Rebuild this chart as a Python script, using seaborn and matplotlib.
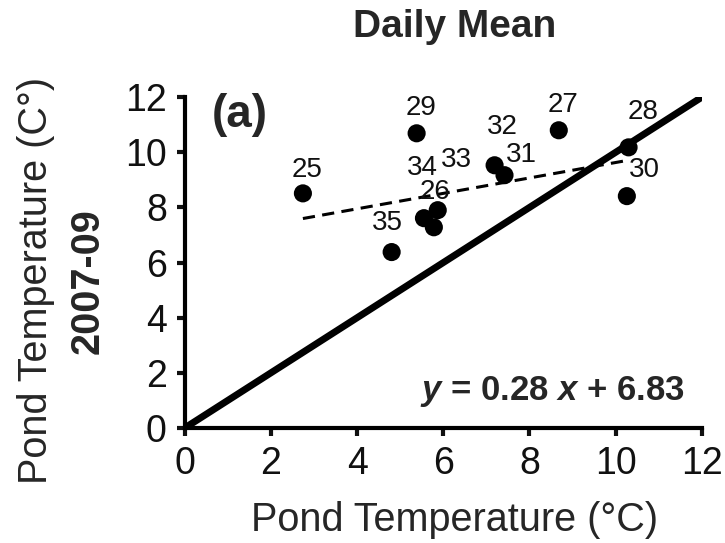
import numpy as np
import pandas as pd
import matplotlib
matplotlib.use("Agg")
import matplotlib.pyplot as plt
import seaborn as sns

# Pond temperatures
pond_ids = ["25", "29", "35", "34", "26", "33", "32", "31", "27", "28", "30"]
temp_x = [2.74, 5.38, 4.80, 5.55, 5.87, 5.78, 7.19, 7.42, 8.68, 10.30, 10.26]
temp_y = [8.51, 10.69, 6.38, 7.61, 7.90, 7.28, 9.53, 9.17, 10.80, 10.18, 8.41]

# regression reported on the chart
slope = 0.28
intercept = 6.83

# label offsets (pixels) so the numbers sit like in the original
label_offsets = {
    "25": (4, 23), "29": (4, 25), "35": (-4, 29), "34": (-2, 50),
    "26": (-3, 18), "33": (23, 67), "32": (8, 38), "31": (17, 20),
    "27": (4, 25), "28": (14, 35), "30": (18, 26),
}

df = pd.DataFrame({"pond": pond_ids, "x": temp_x, "y": temp_y})

sns.set_style("ticks")
plt.rcParams["font.family"] = ["Liberation Sans", "DejaVu Sans"]
plt.rcParams["mathtext.fontset"] = "custom"
plt.rcParams["mathtext.bfit"] = "Liberation Sans:italic:bold"

fig = plt.figure(figsize=(7.25, 5.43), dpi=100)
ax = fig.add_axes([0.255, 0.212, 0.713, 0.609])

# 1:1 line
ax.axline((0, 0), slope=1, color="black", lw=5, zorder=2)

# regression line over data range
fit_x = np.array([df["x"].min(), df["x"].max()])
fit = pd.DataFrame({"x": fit_x, "y": slope * fit_x + intercept})
sns.lineplot(data=fit, x="x", y="y", ax=ax, color="black", lw=2.2,
             linestyle=(0, (4, 2.4)), zorder=3)

sns.scatterplot(data=df, x="x", y="y", ax=ax, color="black", s=170,
                edgecolor="none", zorder=4, clip_on=False)

for _, r in df.iterrows():
    dx, dy = label_offsets[r["pond"]]
    ax.annotate(r["pond"], (r["x"], r["y"]), xytext=(dx, dy),
                textcoords="offset pixels", ha="center", va="center",
                fontsize=20, color="#111111")

ax.set_xlim(0, 12)
ax.set_ylim(0, 12)
ax.set_xticks(range(0, 13, 2))
ax.set_yticks(range(0, 13, 2))
ax.tick_params(labelsize=27, width=3, length=6, direction="out", pad=7,
               colors="#111111")
ax.set_xlabel("")
ax.set_ylabel("")
sns.despine(ax=ax)
for s in ["left", "bottom"]:
    ax.spines[s].set_linewidth(3)
    ax.spines[s].set_color("black")

ax.text(0.106, 0.946, "(a)", transform=ax.transAxes, fontsize=33,
        fontweight="bold", ha="center", va="center")
ax.text(0.967, 0.109, r"$\mathbfit{y}$ = 0.28 $\mathbfit{x}$ + 6.83",
        transform=ax.transAxes, fontsize=25, fontweight="bold",
        ha="right", va="center")

fig.text(455 / 725, 1 - 27 / 543, "Daily Mean", fontsize=28,
         fontweight="bold", ha="center", va="center")
fig.text(455 / 725, 1 - 520 / 543, "Pond Temperature (\u00b0C)",
         fontsize=28.5, ha="center", va="center")
fig.text(36 / 725, 1 - 280 / 543, "Pond Temperature (C\u00b0)",
         fontsize=28.5, rotation=90, ha="center", va="center")
fig.text(88 / 725, 1 - 281 / 543, "2007-09", fontsize=28.5,
         fontweight="bold", rotation=90, ha="center", va="center")

fig.savefig("out.png", dpi=100)
